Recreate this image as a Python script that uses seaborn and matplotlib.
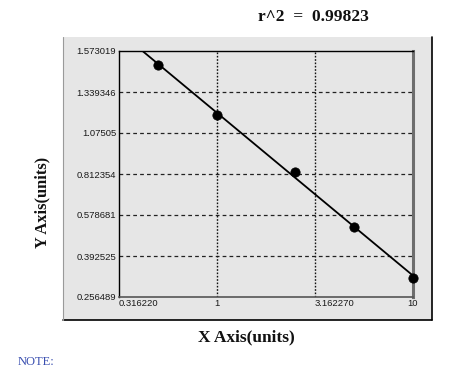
import numpy as np
import matplotlib
matplotlib.use("Agg")
import matplotlib.pyplot as plt
import seaborn as sns
from matplotlib.patches import Rectangle
from matplotlib.lines import Line2D

# ---- data ----
x_values = [0.5, 1.0, 2.5, 5.0, 10.0]
y_values = [1.493, 1.193, 0.827, 0.523, 0.320]
y_ticks = [0.256489, 0.392525, 0.578681, 0.812354, 1.07505, 1.339346, 1.573019]
y_tick_labels = ["0.256489", "0.392525", "0.578681", "0.812354", "1.07505", "1.339346", "1.573019"]
x_ticks = [0.31622, 1.0, 3.16227, 10.0]
x_tick_labels = ["0.316220", "1", "3.162270", "10"]
r2_text = "r^2  =  0.99823"

sns.set_style("white")
plt.rcParams['font.family'] = ['Liberation Sans', 'DejaVu Sans']

fig = plt.figure(figsize=(4.49, 3.69), dpi=100)
fig.patch.set_facecolor("white")

W, H = 449, 369
def fx(px): return px / W
def fy(py): return 1 - py / H

# outer grey panel
panel_l, panel_r, panel_t, panel_b = 63, 432, 37, 320
fig.patches.append(Rectangle((fx(panel_l), fy(panel_b)), fx(panel_r) - fx(panel_l), fy(panel_t) - fy(panel_b),
                             transform=fig.transFigure, facecolor="#e6e6e6", edgecolor="none", zorder=-5))
fig.lines.append(Line2D([fx(panel_l), fx(panel_r)], [fy(panel_b), fy(panel_b)], transform=fig.transFigure, color="black", lw=1.2, zorder=-4))
fig.lines.append(Line2D([fx(panel_r), fx(panel_r)], [fy(panel_b), fy(panel_t)], transform=fig.transFigure, color="black", lw=1.2, zorder=-4))
fig.lines.append(Line2D([fx(panel_l), fx(panel_l)], [fy(panel_b), fy(panel_t)], transform=fig.transFigure, color="#9a9a9a", lw=0.8, zorder=-4))

ax_l, ax_r, ax_t, ax_b = 119, 413, 51, 297
ax = fig.add_axes([fx(ax_l), fy(ax_b), fx(ax_r) - fx(ax_l), fy(ax_t) - fy(ax_b)])
ax.set_zorder(2)
ax.set_facecolor("#e6e6e6")

yt = np.array(y_ticks)
idx = np.arange(len(yt), dtype=float)
def fwd(v):
    return np.interp(v, yt, idx)
def inv(p):
    return np.interp(p, idx, yt)

ax.set_xscale("log")
ax.set_yscale("function", functions=(fwd, inv))
ax.set_xlim(x_ticks[0], x_ticks[-1])
ax.set_ylim(y_ticks[0], y_ticks[-1])

# fit line in display space (log x vs transformed y)
u = np.log10(x_values)
t = fwd(np.array(y_values))
b, a = np.polyfit(u, t, 1)
u_start = (idx[-1] - a) / b
u_line = np.linspace(u_start, np.log10(x_values[-1]), 50)
x_line = 10 ** u_line
y_line = inv(a + b * u_line)

sns.lineplot(x=x_line, y=y_line, ax=ax, color="black", lw=1.3, zorder=3, estimator=None, sort=False)
sns.scatterplot(x=x_values, y=y_values, ax=ax, color="black", s=45, edgecolor="black", zorder=5, clip_on=False)

# grid
for v in y_ticks[1:-1]:
    ax.axhline(v, color="#222222", lw=0.9, ls=(0, (3, 2.5)), zorder=1)
for v in x_ticks[1:-1]:
    ax.axvline(v, color="#111111", lw=1.0, ls=(0, (1.2, 1.2)), zorder=1)

ax.set_yticks(y_ticks)
ax.set_yticklabels(y_tick_labels)
ax.set_xticks(x_ticks)
ax.set_xticklabels(x_tick_labels)
ax.minorticks_off()
ax.tick_params(axis="both", length=0, labelsize=6.8, colors="#1a1a1a")
ax.tick_params(axis="y", pad=2)
ax.tick_params(axis="x", pad=1.5)
for lab, ha in zip(ax.get_xticklabels(), ["left", "center", "left", "center"]):
    lab.set_ha(ha)

for s in ["top", "left"]:
    ax.spines[s].set_color("black")
    ax.spines[s].set_linewidth(1.0)
ax.spines["right"].set_color("#6e6e6e")
ax.spines["right"].set_linewidth(2.2)
ax.spines["bottom"].set_color("#555555")
ax.spines["bottom"].set_linewidth(1.2)

ax.set_xlabel("")
ax.set_ylabel("")

serif = ['Liberation Serif', 'DejaVu Serif']
fig.text(fx(246), fy(337), "X Axis(units)", ha="center", va="center", fontsize=12.5,
         fontweight="bold", family=serif, color="#111111")
fig.text(fx(42), fy(202), "Y Axis(units)", ha="center", va="center", rotation=90, fontsize=11.8,
         fontweight="bold", family=serif, color="#111111")
fig.text(fx(313), fy(17), r2_text, ha="center", va="center", fontsize=12.5,
         fontweight="bold", family=serif, color="#111111")
fig.text(fx(18), fy(362), "NOTE:", ha="left", va="center", fontsize=9,
         family=serif, color="#3a4fb0")

fig.savefig("out.png", dpi=100)
